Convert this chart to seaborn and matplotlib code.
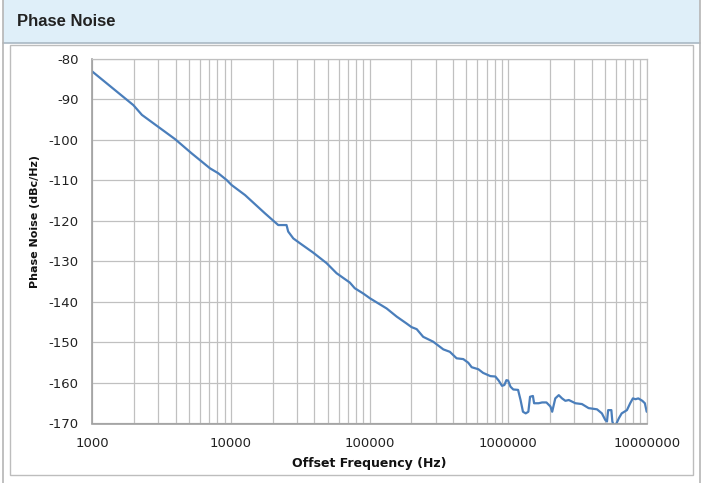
import seaborn as sns
import matplotlib.pyplot as plt
import matplotlib.ticker as mticker
from matplotlib.patches import Rectangle
from matplotlib.lines import Line2D
import pandas as pd

# offset frequency (Hz) and phase noise (dBc/Hz)
freq = [1000, 1980, 2280, 3960, 5210, 7070, 8100, 9330, 10100, 12650,
        17600, 21950, 25200, 25900, 28200, 31500, 39200, 49000, 57900, 72100,
        78300, 90100, 100900, 133000, 157000, 185000, 201000, 219000, 244000, 288000,
        341000, 380000, 425000, 475000, 516000, 546000, 610000, 660000, 745000, 809000,
        855000, 904000, 940000, 972000, 1000000, 1040000, 1090000, 1180000, 1230000, 1280000,
        1340000, 1400000, 1440000, 1510000, 1540000, 1660000, 1760000, 1890000, 2020000, 2080000,
        2190000, 2320000, 2450000, 2590000, 2740000, 3060000, 3410000, 3810000, 4380000, 4750000,
        5020000, 5170000, 5270000, 5560000, 5650000, 5800000, 6050000, 6300000, 6600000, 7200000,
        7600000, 7950000, 8300000, 8700000, 9300000, 9700000, 10000000]
noise = [-83.1, -91.4, -93.8, -99.8, -103.3, -107.0, -108.2, -109.9, -111.1, -113.6,
         -118.1, -121.0, -121.0, -122.6, -124.3, -125.5, -127.8, -130.4, -132.9, -135.2,
         -136.6, -137.9, -139.1, -141.6, -143.6, -145.3, -146.2, -146.7, -148.6, -149.8,
         -151.7, -152.3, -153.9, -154.1, -155.0, -156.1, -156.6, -157.5, -158.3, -158.4,
         -159.4, -160.7, -160.5, -159.3, -159.4, -160.9, -161.6, -161.7, -164.2, -167.1,
         -167.5, -167.1, -163.4, -163.2, -165.0, -165.0, -164.8, -164.8, -165.8, -167.1,
         -163.8, -163.0, -163.8, -164.4, -164.2, -165.0, -165.2, -166.2, -166.5, -167.5,
         -169.1, -169.5, -166.7, -166.7, -169.5, -170.6, -170.0, -168.7, -167.5, -166.7,
         -165.0, -163.8, -164.0, -163.8, -164.4, -165.0, -167.1]

y_ticks = [-170, -160, -150, -140, -130, -120, -110, -100, -90, -80]
x_ticks = [1000, 10000, 100000, 1000000, 10000000]

df = pd.DataFrame({"freq": freq, "noise": noise})

sns.set_style("white")
plt.rcParams["font.family"] = ["DejaVu Sans"]
plt.rcParams["axes.unicode_minus"] = False

W, H = 705, 483
fig = plt.figure(figsize=(W / 100, H / 100), dpi=100)


def fx(px):
    return px / W


def fy(py):
    return 1 - py / H


# panel decoration: header band, outer border, inner box
fig.patches.append(Rectangle((fx(3), fy(43)), fx(697), 43 / H, transform=fig.transFigure,
                             facecolor="#dfeff9", edgecolor="none", zorder=0))
fig.lines.append(Line2D([fx(3), fx(700)], [fy(43), fy(43)], transform=fig.transFigure,
                        color="#a9b8c4", lw=1.2))
for px in (3, 700):
    fig.lines.append(Line2D([fx(px), fx(px)], [0, 1], transform=fig.transFigure,
                            color="#b5b5b5", lw=1.2))
fig.patches.append(Rectangle((fx(10), fy(475)), fx(683), 430 / H, transform=fig.transFigure,
                             facecolor="none", edgecolor="#bdbdbd", lw=1.0))
fig.text(fx(17), fy(21), "Phase Noise", fontsize=12, fontweight="bold",
         family="Liberation Sans", color="#222222", va="center", ha="left")

ax = fig.add_axes([fx(92.3), fy(423.5), fx(646.7 - 92.3), (423.5 - 59) / H])
sns.lineplot(data=df, x="freq", y="noise", ax=ax, color="#4a7ebb", linewidth=1.6)

ax.set_xscale("log")
ax.set_xlim(1000, 10000000)
ax.set_ylim(-170, -80)
ax.set_xticks(x_ticks)
ax.xaxis.set_major_formatter(mticker.FuncFormatter(lambda v, p: f"{int(round(v))}"))
ax.xaxis.set_minor_locator(mticker.LogLocator(base=10, subs=range(2, 10)))
ax.xaxis.set_minor_formatter(mticker.NullFormatter())
ax.set_yticks(y_ticks)

ax.grid(True, which="major", color="#c0c0c0", lw=0.9)
ax.grid(True, which="minor", axis="x", color="#c0c0c0", lw=0.9)
ax.set_axisbelow(True)
for s in ax.spines.values():
    s.set_color("#c0c0c0")
    s.set_linewidth(0.9)
ax.spines["left"].set_color("#a0a0a0")
ax.spines["bottom"].set_color("#a0a0a0")
ax.spines["left"].set_linewidth(1.2)
ax.spines["bottom"].set_linewidth(1.2)

ax.tick_params(axis="both", which="major", direction="out", length=4, width=0.9,
               color="#a0a0a0", labelsize=9.5, labelcolor="#222222", pad=6)
ax.tick_params(axis="x", which="minor", length=0)

ax.set_xlabel("Offset Frequency (Hz)", fontsize=9, fontweight="bold", labelpad=5, color="#111111")
ax.set_ylabel("Phase Noise (dBc/Hz)", fontsize=8, fontweight="bold", color="#111111")
ax.yaxis.set_label_coords(-0.094, 0.554)

fig.savefig("out.png", dpi=100)
